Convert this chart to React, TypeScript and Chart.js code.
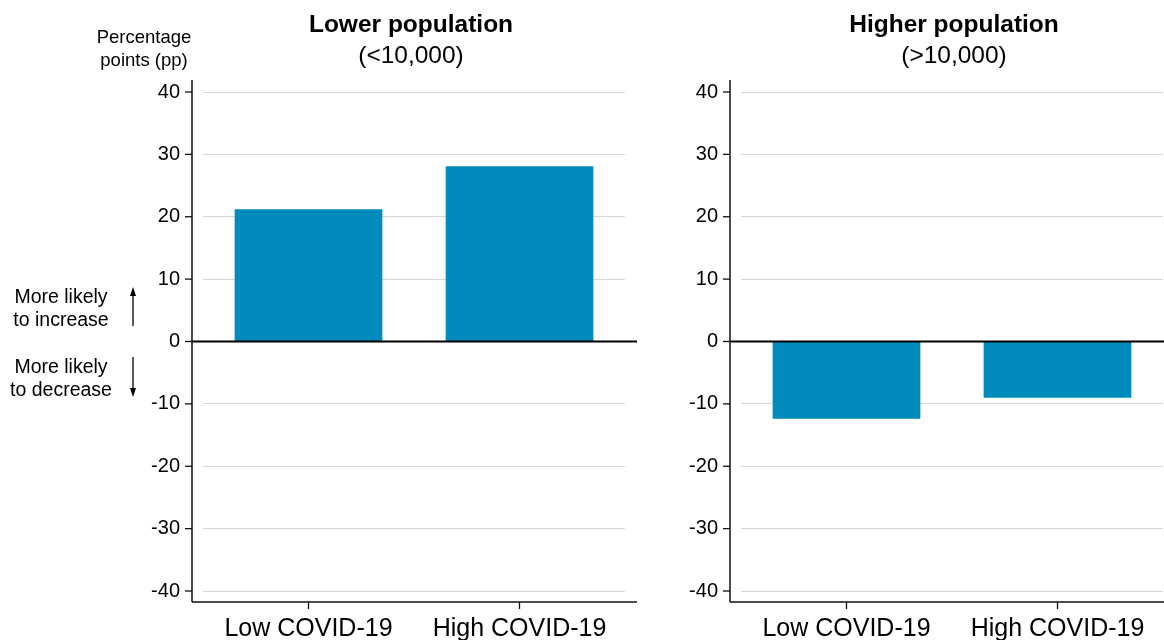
import React, { useEffect, useRef } from "react";
import { Chart, registerables } from "chart.js";

Chart.register(...registerables);

// ---- data ----
const categories = ["Low COVID-19", "High COVID-19"];
const lowerPopulationValues = [21.2, 28.1];
const higherPopulationValues = [-12.4, -9.0];
const yTickValues = [-40, -30, -20, -10, 0, 10, 20, 30, 40];
const lowerTitle = ["Lower population", "(<10,000)"];
const higherTitle = ["Higher population", "(>10,000)"];
const yUnitNote = ["Percentage", "points (pp)"];
const increaseNote = ["More likely", "to increase"];
const decreaseNote = ["More likely", "to decrease"];

const BAR_COLOR = "#008bbc";
const GRID_COLOR = "#d6d6d6";
const AXIS_COLOR = "#111111";
const FONT = "'Liberation Sans', Arial, Helvetica, sans-serif";

type PanelSpec = {
  values: number[];
  title: string[];
  canvasLeft: number;
  canvasWidth: number;
  yAxisWidth: number;
  padRight: number;
  titleX: number;
  notes: boolean;
};

function drawArrow(ctx: CanvasRenderingContext2D, x: number, y1: number, y2: number) {
  const dir = y2 > y1 ? 1 : -1;
  ctx.save();
  ctx.strokeStyle = "#000";
  ctx.fillStyle = "#000";
  ctx.lineWidth = 1.3;
  ctx.beginPath();
  ctx.moveTo(x, y1);
  ctx.lineTo(x, y2 - dir * 6);
  ctx.stroke();
  ctx.beginPath();
  ctx.moveTo(x, y2);
  ctx.lineTo(x - 3, y2 - dir * 9);
  ctx.lineTo(x + 3, y2 - dir * 9);
  ctx.closePath();
  ctx.fill();
  ctx.restore();
}

function makeDecorPlugin(spec: PanelSpec) {
  return {
    id: "panelDecor",
    afterDatasetsDraw(chart: any) {
      const ctx: CanvasRenderingContext2D = chart.ctx;
      const area = chart.chartArea;
      const yScale = chart.scales.y;
      const xScale = chart.scales.x;
      const axisX = area.left - 11;
      const axisBottom = area.bottom + 11;
      const axisRight = area.right + 12;
      ctx.save();
      // zero line
      const y0 = yScale.getPixelForValue(0);
      ctx.strokeStyle = "#000";
      ctx.lineWidth = 2;
      ctx.beginPath();
      ctx.moveTo(axisX, y0);
      ctx.lineTo(axisRight, y0);
      ctx.stroke();
      // y axis line
      ctx.strokeStyle = AXIS_COLOR;
      ctx.lineWidth = 1.5;
      ctx.beginPath();
      ctx.moveTo(axisX, 80);
      ctx.lineTo(axisX, axisBottom);
      ctx.stroke();
      // x axis line
      ctx.beginPath();
      ctx.moveTo(axisX, axisBottom);
      ctx.lineTo(axisRight, axisBottom);
      ctx.stroke();
      // y ticks
      ctx.lineWidth = 1.3;
      yScale.ticks.forEach((t: any) => {
        const py = yScale.getPixelForValue(t.value);
        ctx.beginPath();
        ctx.moveTo(axisX - 7, py);
        ctx.lineTo(axisX, py);
        ctx.stroke();
      });
      // x ticks
      categories.forEach((_, i) => {
        const px = xScale.getPixelForValue(i);
        ctx.beginPath();
        ctx.moveTo(px, axisBottom);
        ctx.lineTo(px, axisBottom + 7);
        ctx.stroke();
      });
      // titles
      ctx.fillStyle = "#000";
      ctx.textAlign = "center";
      ctx.textBaseline = "alphabetic";
      ctx.font = `bold 24.5px ${FONT}`;
      ctx.fillText(spec.title[0], spec.titleX, 32);
      ctx.font = `24.5px ${FONT}`;
      ctx.fillText(spec.title[1], spec.titleX, 63);

      if (spec.notes) {
        ctx.font = `18.5px ${FONT}`;
        ctx.fillText(yUnitNote[0], 144, 43);
        ctx.fillText(yUnitNote[1], 144, 66);
        ctx.font = `19.5px ${FONT}`;
        ctx.fillText(increaseNote[0], 61, 303);
        ctx.fillText(increaseNote[1], 61, 326);
        ctx.fillText(decreaseNote[0], 61, 373);
        ctx.fillText(decreaseNote[1], 61, 396);
        drawArrow(ctx, 133, 326, 287);
        drawArrow(ctx, 133, 357, 397);
      }
      ctx.restore();
    },
  };
}

function Panel({ spec }: { spec: PanelSpec }) {
  const ref = useRef<HTMLCanvasElement | null>(null);
  useEffect(() => {
    if (!ref.current) return;
    const chart = new Chart(ref.current, {
      type: "bar",
      data: {
        labels: categories,
        datasets: [
          {
            data: spec.values,
            backgroundColor: BAR_COLOR,
            borderWidth: 0,
            barPercentage: 0.7,
            categoryPercentage: 1,
          },
        ],
      },
      options: {
        responsive: false,
        animation: false,
        devicePixelRatio: 1,
        layout: {
          padding: { left: 0, right: spec.padRight, top: 92, bottom: 0 },
        },
        plugins: {
          legend: { display: false },
          tooltip: { enabled: false },
          title: { display: false },
        },
        scales: {
          x: {
            type: "category",
            offset: true,
            grid: { display: false, drawTicks: false },
            border: { display: false },
            ticks: {
              font: { family: FONT, size: 25 },
              color: "#000",
              padding: 23,
              maxRotation: 0,
              autoSkip: false,
            },
            afterFit: (s: any) => {
              s.height = 49;
              s.paddingLeft = 0;
              s.paddingRight = 0;
            },
          },
          y: {
            min: -40,
            max: 40,
            grid: {
              drawTicks: false,
              lineWidth: 1,
              color: (c: any) =>
                c.tick && c.tick.value === 0 ? "rgba(0,0,0,0)" : GRID_COLOR,
            },
            border: { display: false },
            afterBuildTicks: (s: any) => {
              s.ticks = yTickValues.map((v) => ({ value: v }));
            },
            ticks: {
              font: { family: FONT, size: 20 },
              color: "#000",
              padding: 23,
              callback: (v: any) => String(v),
            },
            afterFit: (s: any) => {
              s.width = spec.yAxisWidth;
              s.paddingTop = 0;
              s.paddingBottom = 0;
            },
          },
        },
      } as any,
      plugins: [makeDecorPlugin(spec)],
    });
    return () => chart.destroy();
  }, [spec]);
  return (
    <canvas
      ref={ref}
      width={spec.canvasWidth}
      height={640}
      style={{
        position: "absolute",
        left: spec.canvasLeft,
        top: 0,
        width: spec.canvasWidth,
        height: 640,
      }}
    />
  );
}

const leftSpec: PanelSpec = {
  values: lowerPopulationValues,
  title: lowerTitle,
  canvasLeft: 0,
  canvasWidth: 640,
  yAxisWidth: 203,
  padRight: 15,
  titleX: 411,
  notes: true,
};

const rightSpec: PanelSpec = {
  values: higherPopulationValues,
  title: higherTitle,
  canvasLeft: 640,
  canvasWidth: 524,
  yAxisWidth: 101,
  padRight: 1,
  titleX: 314,
  notes: false,
};

export default function App() {
  return (
    <div
      style={{
        position: "fixed",
        left: 0,
        top: 0,
        width: 1164,
        height: 640,
        background: "#fff",
        overflow: "hidden",
      }}
    >
      <Panel spec={leftSpec} />
      <Panel spec={rightSpec} />
    </div>
  );
}
